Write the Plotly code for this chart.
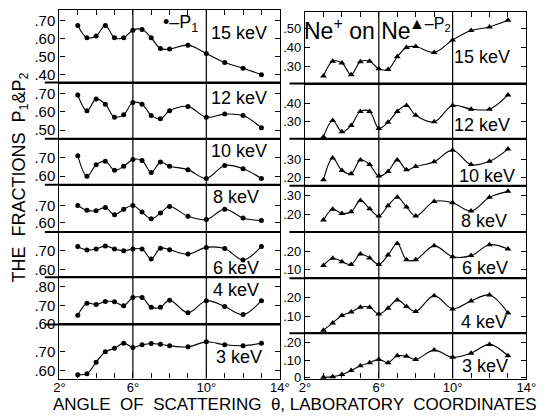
import plotly.graph_objects as go

W, H = 550, 419

angles = [3, 3.5, 4, 4.5, 5, 5.5, 6, 6.5, 7, 7.5, 8, 9, 10, 11, 12, 13]
energies = ["15 keV", "12 keV", "10 keV", "8 keV", "6 keV", "4 keV", "3 keV"]

# P1 (left column), rows from 15 keV down to 3 keV
p1_15 = [0.673, 0.605, 0.615, 0.673, 0.605, 0.605, 0.647, 0.651, 0.605, 0.545, 0.542, 0.564, 0.518, 0.467, 0.436, 0.400]
p1_12 = [0.691, 0.605, 0.670, 0.641, 0.570, 0.584, 0.650, 0.641, 0.580, 0.561, 0.605, 0.629, 0.570, 0.587, 0.579, 0.512]
p1_10 = [0.712, 0.600, 0.662, 0.682, 0.632, 0.654, 0.691, 0.686, 0.620, 0.677, 0.655, 0.636, 0.588, 0.659, 0.641, 0.588]
p1_8 = [0.700, 0.672, 0.670, 0.689, 0.647, 0.679, 0.700, 0.662, 0.623, 0.657, 0.694, 0.638, 0.619, 0.679, 0.628, 0.613]
p1_6 = [0.723, 0.704, 0.709, 0.726, 0.709, 0.700, 0.709, 0.709, 0.656, 0.714, 0.705, 0.682, 0.718, 0.712, 0.651, 0.723]
p1_4 = [0.645, 0.711, 0.704, 0.721, 0.719, 0.698, 0.742, 0.742, 0.689, 0.689, 0.728, 0.659, 0.725, 0.693, 0.649, 0.725]
p1_3 = [0.577, 0.582, 0.644, 0.700, 0.718, 0.746, 0.723, 0.737, 0.744, 0.740, 0.732, 0.726, 0.753, 0.737, 0.732, 0.746]

# P2 (right column)
p2_15 = [0.250, 0.328, 0.319, 0.257, 0.326, 0.328, 0.288, 0.284, 0.352, 0.401, 0.406, 0.375, 0.441, 0.491, 0.510, 0.545]
p2_12 = [0.219, 0.307, 0.247, 0.281, 0.356, 0.356, 0.265, 0.298, 0.356, 0.388, 0.335, 0.300, 0.388, 0.368, 0.368, 0.444]
p2_10 = [0.185, 0.305, 0.236, 0.218, 0.295, 0.269, 0.205, 0.231, 0.295, 0.240, 0.258, 0.285, 0.349, 0.269, 0.287, 0.355]
p2_8 = [0.168, 0.226, 0.203, 0.212, 0.274, 0.228, 0.189, 0.245, 0.291, 0.238, 0.189, 0.268, 0.261, 0.216, 0.291, 0.323]
p2_6 = [0.122, 0.163, 0.144, 0.128, 0.187, 0.165, 0.128, 0.181, 0.246, 0.154, 0.154, 0.233, 0.172, 0.178, 0.239, 0.215]
p2_4 = [0.026, 0.065, 0.105, 0.123, 0.149, 0.149, 0.112, 0.144, 0.188, 0.153, 0.126, 0.211, 0.140, 0.182, 0.214, 0.118]
p2_3 = [0.000, 0.004, 0.016, 0.040, 0.067, 0.085, 0.104, 0.085, 0.125, 0.122, 0.104, 0.158, 0.116, 0.140, 0.191, 0.125]

p1_rows = [p1_15, p1_12, p1_10, p1_8, p1_6, p1_4, p1_3]
p2_rows = [p2_15, p2_12, p2_10, p2_8, p2_6, p2_4, p2_3]

# y tick values per row
p1_ticks = [[0.40, 0.50, 0.60, 0.70], [0.50, 0.60, 0.70], [0.60, 0.70], [0.60, 0.70],
            [0.60, 0.70], [0.60, 0.70, 0.80], [0.60, 0.70]]
p2_ticks = [[0.30, 0.40, 0.50], [0.30, 0.40], [0.20, 0.30], [0.20, 0.30],
            [0.10, 0.20], [0.10, 0.20], [0.0, 0.10, 0.20]]

x_tickvals = [2, 6, 10, 14]
x_ticktext = ["2°", "6°", "10°", "14°"]

# ---- layout geometry (pixels) ----
left_rows_px = [(10, 84), (84, 141), (141, 188), (188, 236), (236, 282), (282, 330), (330, 385)]
right_rows_px = [(12, 85), (85, 141), (141, 189), (189, 236), (236, 283), (283, 339), (339, 385)]
left_yrange = [(0.356, 0.760), (0.453, 0.759), (0.553, 0.805), (0.547, 0.819),
               (0.558, 0.800), (0.595, 0.853), (0.556, 0.846)]
right_yrange = [(0.210, 0.590), (0.210, 0.505), (0.151, 0.413), (0.102, 0.353),
                (0.050, 0.311), (0.009, 0.304), (-0.007, 0.255)]
left_xpx = (55, 282)
right_xpx = (308, 536)

left_label_px = [(240, 34), (240, 100), (240, 154), (237, 200), (237, 273), (237, 295), (240, 363)]
right_label_px = [(490, 58), (490, 127), (495, 179), (492, 225), (493, 273), (492, 327), (493, 372)]


def fx(x):
    return x / W


def fy(y):
    return 1 - y / H


def fmt(v):
    if v == 0:
        return "0"
    return ("%.2f" % v).lstrip("0")


FONT = "Liberation Sans"
fig = go.Figure()
layout = {}
annotations = []
shapes = []

for col in range(2):
    rows = p1_rows if col == 0 else p2_rows
    ticks = p1_ticks if col == 0 else p2_ticks
    rows_px = left_rows_px if col == 0 else right_rows_px
    yr = left_yrange if col == 0 else right_yrange
    xpx = left_xpx if col == 0 else right_xpx
    labels_px = left_label_px if col == 0 else right_label_px
    symbol = "circle" if col == 0 else "triangle-up"
    msize = 5 if col == 0 else 6
    yfont = 15 if col == 0 else 13
    for r in range(7):
        idx = col * 7 + r + 1
        xa = "x" if idx == 1 else "x%d" % idx
        ya = "y" if idx == 1 else "y%d" % idx
        fig.add_trace(go.Scatter(
            x=angles, y=rows[r], xaxis=xa, yaxis=ya, mode="lines+markers",
            line=dict(color="black", width=1.1, shape="spline", smoothing=1.0),
            marker=dict(symbol=symbol, size=msize, color="black"),
            cliponaxis=False, showlegend=False, hoverinfo="skip"))
        top, bot = rows_px[r]
        xkey = "xaxis" if idx == 1 else "xaxis%d" % idx
        ykey = "yaxis" if idx == 1 else "yaxis%d" % idx
        xax = dict(domain=[fx(xpx[0]), fx(xpx[1])], range=[2, 14], anchor=ya,
                   showgrid=False, zeroline=False, showline=True, mirror=True,
                   linecolor="black", linewidth=1.3,
                   tickvals=x_tickvals, ticktext=x_ticktext,
                   ticks="", showticklabels=False,
                   tickfont=dict(family=FONT, size=13, color="black"))
        if r == 0:
            xax.update(side="top", ticks="inside", ticklen=5, tickcolor="black",
                       minor=dict(ticks="inside", dtick=1, tick0=2, ticklen=5,
                                  tickcolor="black", showgrid=False))
        if r == 6:
            xax.update(ticks="inside", ticklen=5, tickcolor="black",
                       showticklabels=True, ticklabelstandoff=-3,
                       minor=dict(ticks="inside", dtick=1, tick0=2, ticklen=5,
                                  tickcolor="black", showgrid=False))
        layout[xkey] = xax
        layout[ykey] = dict(domain=[fy(bot), fy(top)], range=list(yr[r]), anchor=xa,
                            showgrid=False, zeroline=False, showline=True, mirror="ticks",
                            linecolor="black", linewidth=1.3,
                            ticks="inside", ticklen=5, tickcolor="black",
                            tickvals=ticks[r], ticktext=[fmt(v) for v in ticks[r]],
                            tickfont=dict(family=FONT, size=yfont, color="black"))
        lx, ly = labels_px[r]
        annotations.append(dict(x=fx(lx), y=fy(ly), xref="paper", yref="paper",
                                text=energies[r], showarrow=False,
                                font=dict(family=FONT, size=18, color="black"),
                                xanchor="center", yanchor="middle"))
    # vertical reference lines at 6 and 10 degrees
    xr = "x" if col == 0 else "x8"
    top_all = rows_px[0][0]
    bot_all = rows_px[-1][1]
    for v in (6, 10):
        shapes.append(dict(type="line", xref=xr, yref="paper", x0=v, x1=v,
                           y0=fy(bot_all), y1=fy(top_all),
                           line=dict(color="black", width=1.2)))
    # thick separators between rows
    x0 = 40 if col == 0 else 292
    for r in range(1, 7):
        yb = rows_px[r][0]
        shapes.append(dict(type="line", xref="paper", yref="paper",
                           x0=fx(x0), x1=fx(xpx[1]), y0=fy(yb), y1=fy(yb),
                           line=dict(color="black", width=2)))

# legend-like labels and titles
annotations.append(dict(x=fx(160), y=fy(24), xref="paper", yref="paper",
                        text="•–P<sub>1</sub>", showarrow=False,
                        xanchor="left", yanchor="middle",
                        font=dict(family=FONT, size=18, color="black")))
annotations.append(dict(x=fx(413), y=fy(25), xref="paper", yref="paper",
                        text="▲–P<sub>2</sub>", showarrow=False,
                        xanchor="left", yanchor="middle",
                        font=dict(family=FONT, size=16, color="black")))
annotations.append(dict(x=fx(362), y=fy(30), xref="paper", yref="paper",
                        text="Ne<sup>+</sup> on Ne", showarrow=False,
                        xanchor="center", yanchor="middle",
                        font=dict(family=FONT, size=23, color="black")))
annotations.append(dict(x=fx(15), y=fy(181), xref="paper", yref="paper",
                        text="THE  FRACTIONS  P<sub>1</sub>&P<sub>2</sub>", textangle=-90,
                        showarrow=False, xanchor="center", yanchor="middle",
                        font=dict(family=FONT, size=18, color="black")))
annotations.append(dict(x=fx(298), y=fy(411), xref="paper", yref="paper",
                        text="ANGLE  OF  SCATTERING  θ, LABORATORY  COORDINATES",
                        showarrow=False, xanchor="center", yanchor="middle",
                        font=dict(family=FONT, size=17, color="black")))

fig.update_layout(width=W, height=H, margin=dict(l=0, r=0, t=0, b=0),
                  paper_bgcolor="white", plot_bgcolor="white",
                  annotations=annotations, shapes=shapes, **layout)

fig.write_html("out.html", config={"displayModeBar": False},
               post_script="document.body.style.margin='0px';document.body.style.overflow='hidden';")
